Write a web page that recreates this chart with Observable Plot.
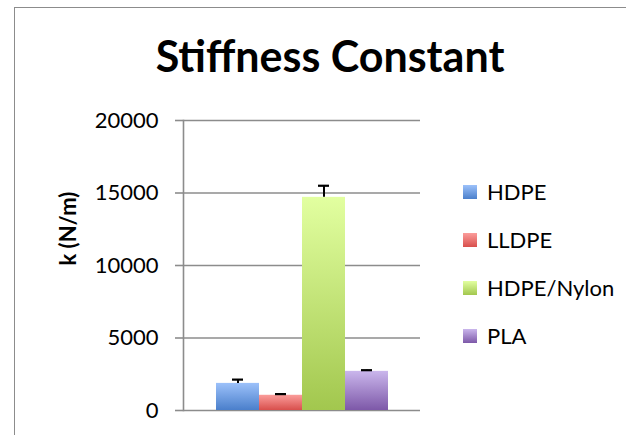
<!DOCTYPE html>
<html>
<head>
<meta charset="utf-8">
<script src="https://cdn.jsdelivr.net/npm/d3@7"></script>
<script src="https://cdn.jsdelivr.net/npm/@observablehq/plot@0.6"></script>
<style>
  body { margin: 0; background: #fff; font-family: Lato, "Open Sans", sans-serif; }
  #wrap { position: relative; width: 626px; height: 435px; overflow: hidden; }
  #border { position: absolute; left: 14px; top: 7px; width: 700px; height: 500px;
            border-left: 1.5px solid #8c8c8c; border-top: 1.5px solid #8c8c8c; }
  #legend { position: absolute; left: 463px; top: 0; }
  .item { position: absolute; left: 0; white-space: nowrap; font: 22px Lato, sans-serif; color: #000; }
  .sw { display: inline-block; width: 14px; height: 14px; vertical-align: middle; margin-right: 10px; position: relative; top: -2px; }
</style>
</head>
<body>
<div id="wrap">
  <div id="border"></div>
  <div id="chart"></div>
  <div id="legend"></div>
</div>
<script>
const materials = ["HDPE", "LLDPE", "HDPE/Nylon", "PLA"];
const stiffness = [1870, 1050, 14700, 2700];
const errors = [260, 80, 800, 80];
const yTicks = [0, 5000, 10000, 15000, 20000];
const title = "Stiffness Constant";
const yLabel = "k (N/m)";
const gradTop = ["#9cc1fa", "#fb9d9b", "#e2ffa0", "#cab6ec"];
const gradBottom = ["#4a7fcb", "#d84f4c", "#a2c74e", "#7d58a8"];

const data = materials.map((m, i) => ({material: m, k: stiffness[i], err: errors[i], top: stiffness[i] + errors[i], idx: i}));
const gid = i => "grad" + i;

const plot = Plot.plot({
  width: 626,
  height: 435,
  marginLeft: 183,
  marginRight: 206,
  marginTop: 120,
  marginBottom: 25,
  style: {fontFamily: "Lato, sans-serif", fontSize: "22px", color: "#000", background: "transparent"},
  x: {domain: materials, paddingInner: 0, paddingOuter: 0.72, axis: null},
  y: {domain: [0, 20000], axis: null},
  marks: [
    Plot.gridY(yTicks, {stroke: "#8c8c8c", strokeOpacity: 1, strokeWidth: 1.6}),
    Plot.axisY({ticks: yTicks, tickSize: 8, tickPadding: 17, tickFormat: d => String(d),
                stroke: "#8c8c8c", strokeWidth: 1.6, label: null, fontSize: 22}),
    Plot.frame({anchor: "left", stroke: "#8c8c8c", strokeWidth: 1.6}),
    ...data.map(d => Plot.barY([d], {x: "material", y: "k", fill: `url(#${gid(d.idx)})`,
                                      style: {filter: "drop-shadow(2px 1px 1.5px rgba(0,0,0,0.3))"}})),
    Plot.ruleX(data, {x: "material", y1: "k", y2: "top", stroke: "#000", strokeWidth: 2}),
    Plot.tickY(data, {x: "material", y: "top", stroke: "#000", strokeWidth: 2.2, insetLeft: 16, insetRight: 16}),
    Plot.text([title], {frameAnchor: "top", dx: 28, dy: -62, lineAnchor: "middle", fontSize: 43, fontWeight: "bold"}),
    Plot.text([yLabel], {frameAnchor: "left", dx: -115, rotate: -90, fontSize: 22, fontWeight: "bold"})
  ]
});

// gradient definitions for bars
const svg = d3.select(plot);
const defs = svg.insert("defs", ":first-child");
materials.forEach((m, i) => {
  const g = defs.append("linearGradient").attr("id", gid(i)).attr("x1", 0).attr("y1", 0).attr("x2", 0).attr("y2", 1);
  g.append("stop").attr("offset", "0%").attr("stop-color", gradTop[i]);
  g.append("stop").attr("offset", "100%").attr("stop-color", gradBottom[i]);
});
document.getElementById("chart").appendChild(plot);

// legend
const legendTops = [192, 240, 288, 336];
const legend = document.getElementById("legend");
materials.forEach((m, i) => {
  const item = document.createElement("div");
  item.className = "item";
  item.style.top = (legendTops[i] - 14) + "px";
  const sw = document.createElement("span");
  sw.className = "sw";
  sw.style.background = `linear-gradient(${gradTop[i]}, ${gradBottom[i]})`;
  item.appendChild(sw);
  item.appendChild(document.createTextNode(m));
  legend.appendChild(item);
});
</script>
</body>
</html>
